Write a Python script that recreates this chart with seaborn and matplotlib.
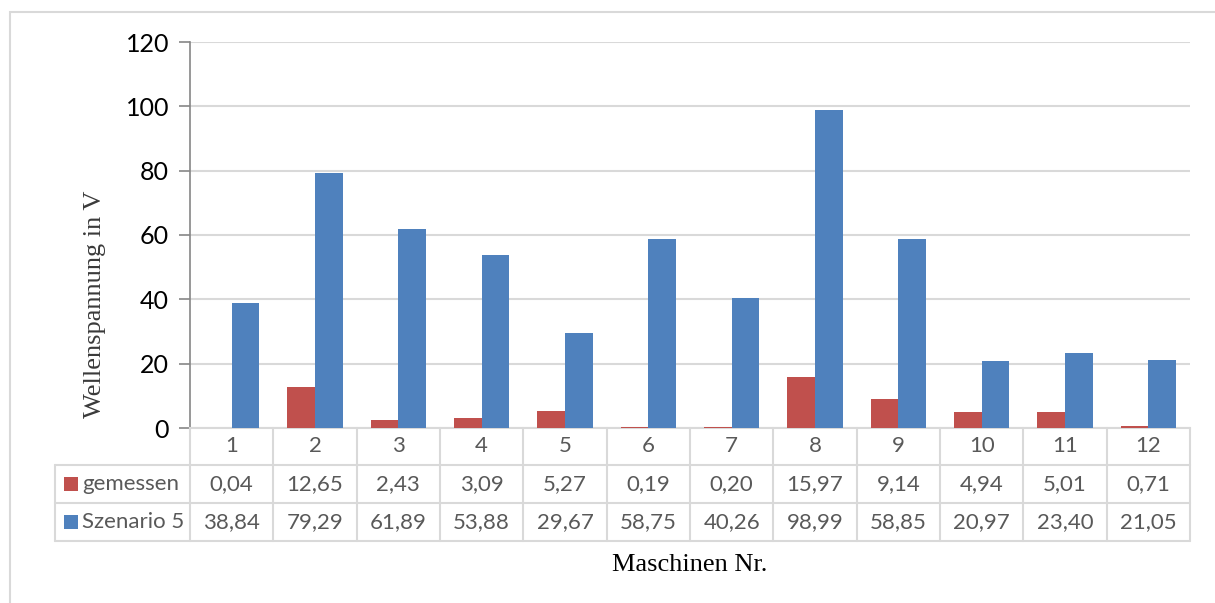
import pandas as pd
import matplotlib.pyplot as plt
import matplotlib.transforms as mtransforms
from matplotlib.patches import Rectangle
from matplotlib.lines import Line2D
import seaborn as sns

# Data
maschinen = ["1", "2", "3", "4", "5", "6", "7", "8", "9", "10", "11", "12"]
gemessen = [0.04, 12.65, 2.43, 3.09, 5.27, 0.19, 0.20, 15.97, 9.14, 4.94, 5.01, 0.71]
szenario5 = [38.84, 79.29, 61.89, 53.88, 29.67, 58.75, 40.26, 98.99, 58.85, 20.97, 23.40, 21.05]
serien = ["gemessen", "Szenario 5"]
farben = ["#C0504D", "#4F81BD"]

df = pd.DataFrame({
    "Maschine": maschinen * 2,
    "Wert": gemessen + szenario5,
    "Serie": [serien[0]] * len(maschinen) + [serien[1]] * len(maschinen),
})

sns.set_style("white")
plt.rcParams["font.family"] = ["Lato", "DejaVu Sans"]

W, H = 1215, 603
fig = plt.figure(figsize=(W / 100, H / 100), dpi=100)
ax = fig.add_axes([190 / W, 1 - 428 / H, 1000 / W, 386 / H])

grid_c = "#D9D9D9"
text_c = "#595959"

sns.barplot(data=df, x="Maschine", y="Wert", hue="Serie", palette=farben,
            order=maschinen, hue_order=serien, width=0.667, saturation=1,
            linewidth=0, ax=ax, legend=False, zorder=3)

ax.set_xlim(-0.5, len(maschinen) - 0.5)
ax.set_ylim(0, 120)
ax.set_yticks(range(0, 121, 20))
ax.yaxis.grid(True, color=grid_c, linewidth=1.5, zorder=0)
ax.set_axisbelow(True)
ax.tick_params(axis="y", direction="out", length=8, width=1.2, color="#868686",
               labelsize=18, labelcolor="black", pad=7, left=True)
ax.set_xticks([])
ax.set_xlabel("")
ax.set_ylabel("")
for s in ["top", "right"]:
    ax.spines[s].set_visible(False)
ax.spines["left"].set_color("#868686")
ax.spines["left"].set_linewidth(1.2)
ax.spines["bottom"].set_color(grid_c)
ax.spines["bottom"].set_linewidth(1.5)

# Data table below the axis (x in data units, y in axes fraction)
trans = mtransforms.blended_transform_factory(ax.transData, ax.transAxes)
px = 1 / 386
rows_y = [0, -37 * px, -75 * px, -113 * px]
n = len(maschinen)
left_x = -0.5 - 135 / (1000 / n)

def hline(x0, x1, y):
    ax.add_line(Line2D([x0, x1], [y, y], transform=trans, color=grid_c,
                       linewidth=1.5, clip_on=False))

def vline(x, y0, y1):
    ax.add_line(Line2D([x, x], [y0, y1], transform=trans, color=grid_c,
                       linewidth=1.5, clip_on=False))

for y in rows_y[1:]:
    hline(left_x, n - 0.5, y)
for i in range(n + 1):
    vline(i - 0.5, rows_y[0], rows_y[3])
vline(left_x, rows_y[1], rows_y[3])

def fmt(v):
    return f"{v:.2f}".replace(".", ",")

tsize = 16
for i, m in enumerate(maschinen):
    ax.text(i, (rows_y[0] + rows_y[1]) / 2, m, transform=trans, ha="center",
            va="center", fontsize=tsize, color=text_c)
    ax.text(i, (rows_y[1] + rows_y[2]) / 2, fmt(gemessen[i]), transform=trans,
            ha="center", va="center", fontsize=tsize, color=text_c)
    ax.text(i, (rows_y[2] + rows_y[3]) / 2, fmt(szenario5[i]), transform=trans,
            ha="center", va="center", fontsize=tsize, color=text_c)

# row labels with legend keys
for k, (name, col) in enumerate(zip(serien, farben)):
    fy = 1 - (465 + 38 * k + 19) / H
    fig.patches.append(Rectangle((64 / W, fy - 7 / H), 14 / W, 14 / H,
                                 transform=fig.transFigure, facecolor=col,
                                 edgecolor="none"))
    fig.text(82 / W, fy, name, ha="left", va="center", fontsize=tsize, color=text_c)

# axis titles
fig.text(95 / W, 1 - 304 / H, "Wellenspannung in V", rotation=90, ha="center",
         va="center", fontsize=19, family="Liberation Serif", color="#3a3a3a")
fig.text(690 / W, 1 - 565 / H, "Maschinen Nr.", ha="center", va="center",
         fontsize=19, family="Liberation Serif", color="black")

# outer chart border
fig.patches.append(Rectangle((10 / W, -0.1), 1.2, 1 - 12 / H + 0.1,
                             transform=fig.transFigure, facecolor="none",
                             edgecolor=grid_c, linewidth=1.5))

fig.savefig("out.png", dpi=100)
